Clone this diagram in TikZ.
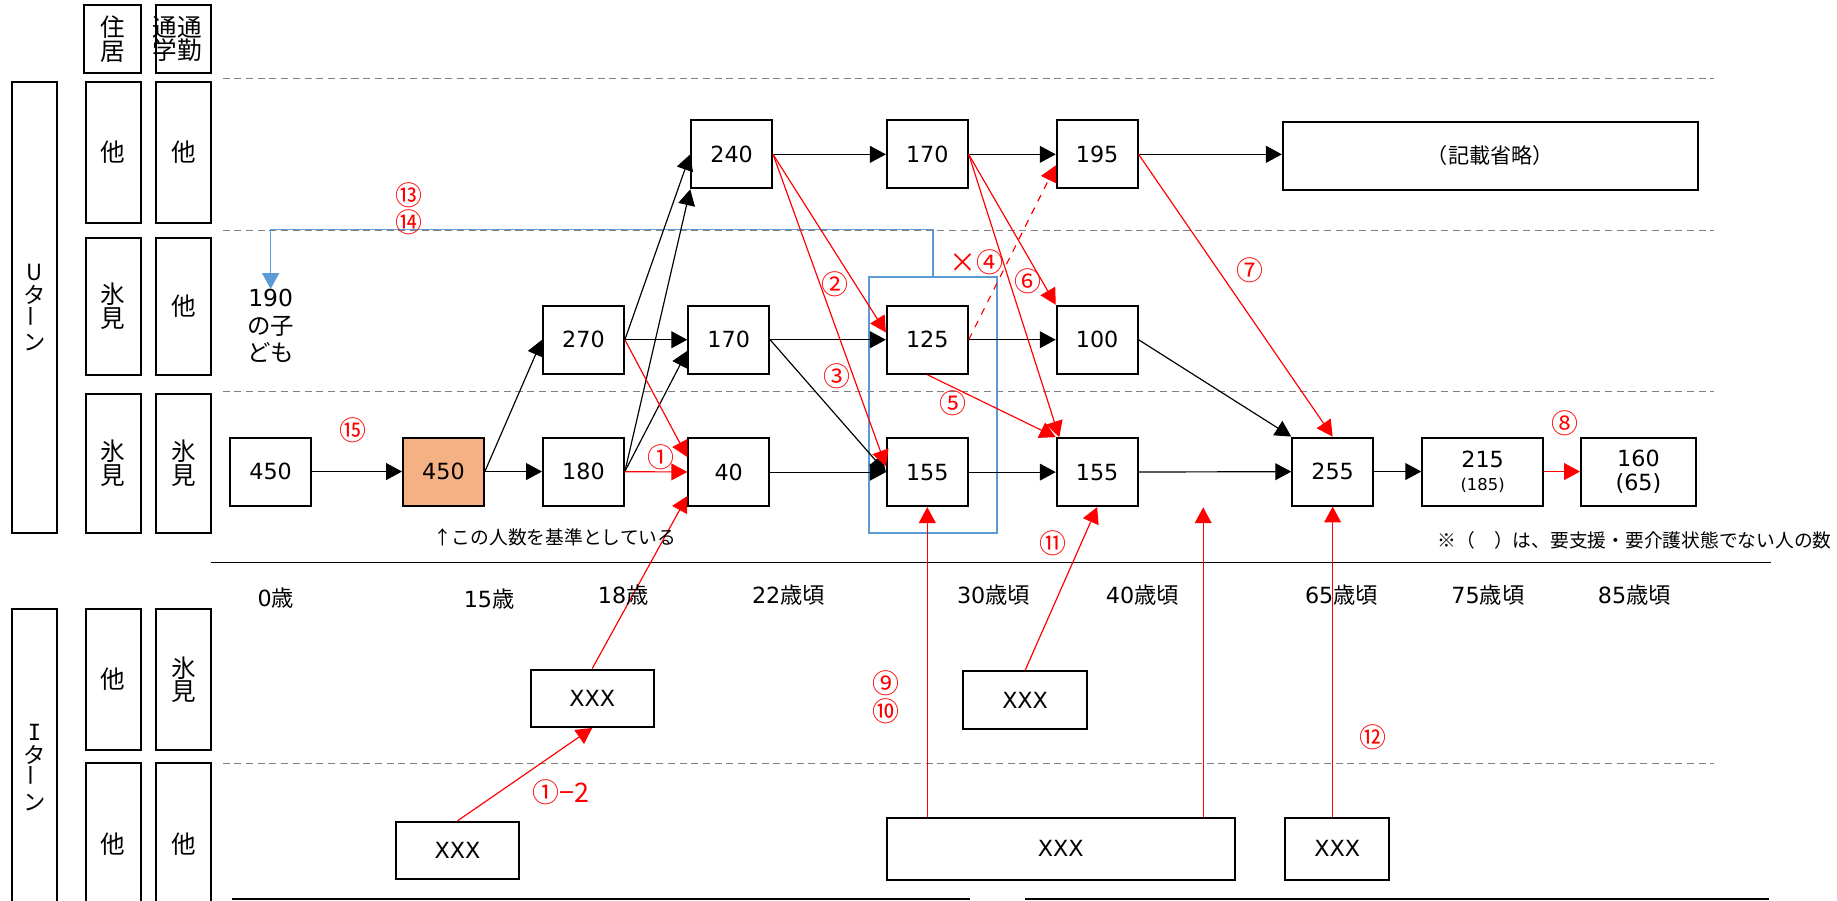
\documentclass[tikz,border=0pt]{standalone}
\usepackage{fontspec}
\setmainfont{DejaVu Sans}
\setmonofont{DejaVu Sans Mono}
\newfontfamily\jp{Noto Sans CJK JP}
\usetikzlibrary{arrows.meta}
\definecolor{flowred}{RGB}{255,0,0}
\definecolor{flowblue}{RGB}{91,155,213}
\definecolor{baseorange}{RGB}{244,177,131}

\begin{document}
\begin{tikzpicture}[x=0.5pt,y=-0.5pt,
  every node/.style={font=\fontsize{9.5}{11}\selectfont},
  box/.style={draw,line width=0.85pt,minimum width=34.5pt,minimum height=29pt,inner sep=0pt},
  side/.style={draw,line width=0.85pt,minimum width=23.5pt,inner sep=0pt,align=center,font=\jp\fontsize{10.5}{10}\selectfont},
  turn/.style={side,minimum width=19.5pt,font=\jp\fontsize{9.5}{10}\selectfont},
  flow/.style={line width=0.5pt,-{Triangle[length=6.8pt,width=7.2pt]}},
  redflow/.style={flow,flowred},
  circnum/.style={text=flowred,inner sep=0pt,font=\jp\fontsize{11.5}{12}\selectfont},
  divider/.style={gray,line width=0.5pt,dash pattern=on 3pt off 2pt},
  age/.style={inner sep=0pt},
  note/.style={inner sep=0pt,font=\jp\fontsize{8}{10}\selectfont}]
\useasboundingbox (0,0) rectangle (1568,769);
\clip (0,0) rectangle (1568,769);

\draw[divider] (190,67) -- (1463,67);
\draw[divider] (190,197) -- (1463,197);
\draw[divider] (190,334) -- (1463,334);
\draw[divider] (190,652) -- (1463,652);
\draw[line width=0.6pt] (180,480) -- (1512,480);
\draw[line width=0.85pt] (198,767) -- (828,767);
\draw[line width=0.85pt] (875,767) -- (1510,767);

\node[side,minimum width=24.25pt,minimum height=29pt] (home) at (96,33.5) {住\\居};
\node[side,minimum height=29pt] (commute) at (156.5,33.5) {\hspace*{-5pt}通\hspace{0.4pt}通\\\hspace*{-5pt}学\hspace{0.4pt}勤};
\node[turn,minimum height=192.5pt] (uturn) at (29.5,262.5) {U\\タ\\\rotatebox{90}{ー}\\ン};
\node[side,minimum height=60pt] (homeA) at (96.5,130) {他};
\node[side,minimum height=60pt] (workA) at (156.5,130) {他};
\node[side,minimum height=58.5pt] (homeB) at (96.5,261.5) {氷\\見};
\node[side,minimum height=58.5pt] (workB) at (156.5,261.5) {他};
\node[side,minimum height=59.5pt] (homeC) at (96.5,395.5) {氷\\見};
\node[side,minimum height=59.5pt] (workC) at (156.5,395.5) {氷\\見};
\node[turn,minimum height=135pt] (iturn) at (29.5,655) {{\ttfamily I}\\タ\\\rotatebox{90}{ー}\\ン};
\node[side,minimum height=60pt] (homeD) at (96.5,580) {他};
\node[side,minimum height=60pt] (workD) at (156.5,580) {氷\\見};
\node[side,minimum height=69.5pt] (homeE) at (96.5,720.5) {他};
\node[side,minimum height=69.5pt] (workE) at (156.5,720.5) {他};

\node[box] (n450a) at (231,402.5) {450};
\node[box,fill=baseorange] (n450b) at (378.5,402.5) {450};
\node[box] (n180) at (498,402.5) {180};
\node[box] (n270) at (498,290) {270};
\node[box] (n40) at (622,403) {40};
\node[box] (n170m) at (622,290) {170};
\node[box] (n240) at (624.5,131.75) {240};
\node[box] (n170t) at (791.5,131.75) {170};
\node[box] (n125) at (791.5,290) {125};
\node[box] (n155a) at (791.5,403) {155};
\node[box] (n195) at (936.5,131.75) {195};
\node[box] (n100) at (936.5,290) {100};
\node[box] (n155b) at (936.5,403) {155};
\node[box,minimum width=177pt] (omit) at (1272,133) {\jp\fontsize{9}{10}\selectfont （記載省略）};
\node[box] (n255) at (1137.5,402.5) {255};
\node[box,minimum width=51.5pt,align=center] (n215) at (1265.5,402.5) {215\\[-1pt]{\fontsize{7}{8}\selectfont(185)}};
\node[box,minimum width=49pt,align=center] (n160) at (1398.5,402.5) {160\\[-1pt](65)};

\node[box,minimum width=52.5pt,minimum height=24.5pt] (x1) at (505.5,596) {XXX};
\node[box,minimum width=52.5pt,minimum height=24.5pt] (x2) at (390.5,726) {XXX};
\node[box,minimum width=53pt,minimum height=24.5pt] (x3) at (875,597.5) {XXX};
\node[box,minimum width=148.5pt,minimum height=26.5pt] (xbig) at (905.5,724.5) {XXX};
\node[box,minimum width=44.5pt,minimum height=26.5pt] (x4) at (1141.5,724.5) {XXX};
\coordinate (open40) at (1027,433);

\node[inner sep=0pt,align=center,font=\fontsize{10}{11.75}\selectfont] (kids) at (231,278.5) {190\\{\jp の子}\\{\jp ども}};
\node[draw=flowblue,line width=0.9pt,minimum width=54.5pt,minimum height=109.25pt,inner sep=0pt] (focus) at (796.5,345.75) {};
\coordinate (kidsturn) at (231,196);
\draw[flowblue,line width=0.7pt,-{Triangle[length=6.8pt,width=7.2pt]}] (focus.north) |- (kidsturn) -- (kids.north);

\draw[flow] (n450a) -- (n450b);
\draw[flow] (n450b) -- (n180);
\draw[flow] (n450b.east) -- (n270.west);
\draw[flow] (n270.east) -- (n240.west);
\draw[flow] (n180.east) -- (n240.south west);
\draw[flow] (n180.east) -- (n170m.195);
\draw[flow] (n270.east) -- (n170m.west);
\draw[flow] (n170m.east) -- (n125.west);
\draw[flow] (n170m.east) -- (n155a.west);
\draw[flow] (n40) -- (n155a);
\draw[flow] (n240) -- (n170t);
\draw[flow] (n170t) -- (n195);
\draw[flow] (n195.east) -- (n195.east -| omit.west);
\draw[flow] (n125) -- (n100);
\draw[flow] (n155a) -- (n155b);
\draw[flow] (n100.east) -- (n255.north west);
\draw[flow] (n155b) -- (n255);
\draw[flow] (n255) -- (n215);

\draw[redflow] (n180) -- (n40);
\draw[redflow] (n270.east) -- (n40.160);
\draw[redflow] (x1.north) -- (n40.210);
\draw[redflow] (x2.north) -- (x1.south);
\draw[redflow] (n240.east) -- (n125.170);
\draw[redflow] (n240.east) -- (n155a.172);
\draw[redflow,dashed] (n125.east) -- (n195.195);
\draw[redflow] (n125.south) -- (n155b.north west);
\draw[redflow] (n170t.east) -- (n100.north west);
\draw[redflow] (n170t.east) -- ([xshift=1.5pt]n155b.north west);
\draw[redflow] (n195.east) -- (n255.north);
\draw[redflow] (n215) -- (n160);
\draw[redflow] (xbig.north -| n155a) -- (n155a.south);
\draw[redflow] (xbig.north -| open40) -- (open40);
\draw[redflow] (x3.north) -- (n155b.south);
\draw[redflow] (x4.north -| n255.south) -- (n255.south);

\node[circnum] (m13) at (349,166.5) {⑬};
\node[circnum] (m14) at (349,190) {⑭};
\node[circnum] (m15) at (301.5,367.5) {⑮};
\node[circnum] (m1) at (564,390) {①};
\node[circnum] (m2) at (712.5,243) {②};
\node[circnum] (m3) at (714,321.5) {③};
\node[circnum] (m4) at (833.5,224) {×④};
\node[circnum] (m5) at (813.5,344) {⑤};
\node[circnum] (m6) at (877.5,240.5) {⑥};
\node[circnum] (m7) at (1067,230.5) {⑦};
\node[circnum] (m8) at (1336,361) {⑧};
\node[circnum] (m9) at (756,583) {⑨};
\node[circnum] (m10) at (756,607) {⑩};
\node[circnum] (m11) at (899,463.5) {⑪};
\node[circnum] (m12) at (1172,629) {⑫};
\node[circnum] (m1b) at (479,676) {①−2};

\node[note] (basis) at (473.5,459) {↑この人数を基準としている};
\node[note,anchor=west] (legend) at (1227,461) {※（　）は、要支援・要介護状態でない人の数};

\node[age] (a0) at (235.5,510.5) {0{\jp 歳}};
\node[age] (a15) at (417.5,511) {15{\jp 歳}};
\node[age] (a18) at (532,508) {18{\jp 歳}};
\node[age] (a22) at (673,508) {22{\jp 歳頃}};
\node[age] (a30) at (848,508) {30{\jp 歳頃}};
\node[age] (a40) at (975,508) {40{\jp 歳頃}};
\node[age] (a65) at (1145,508) {65{\jp 歳頃}};
\node[age] (a75) at (1270,508) {75{\jp 歳頃}};
\node[age] (a85) at (1395,508) {85{\jp 歳頃}};
\end{tikzpicture}
\end{document}
